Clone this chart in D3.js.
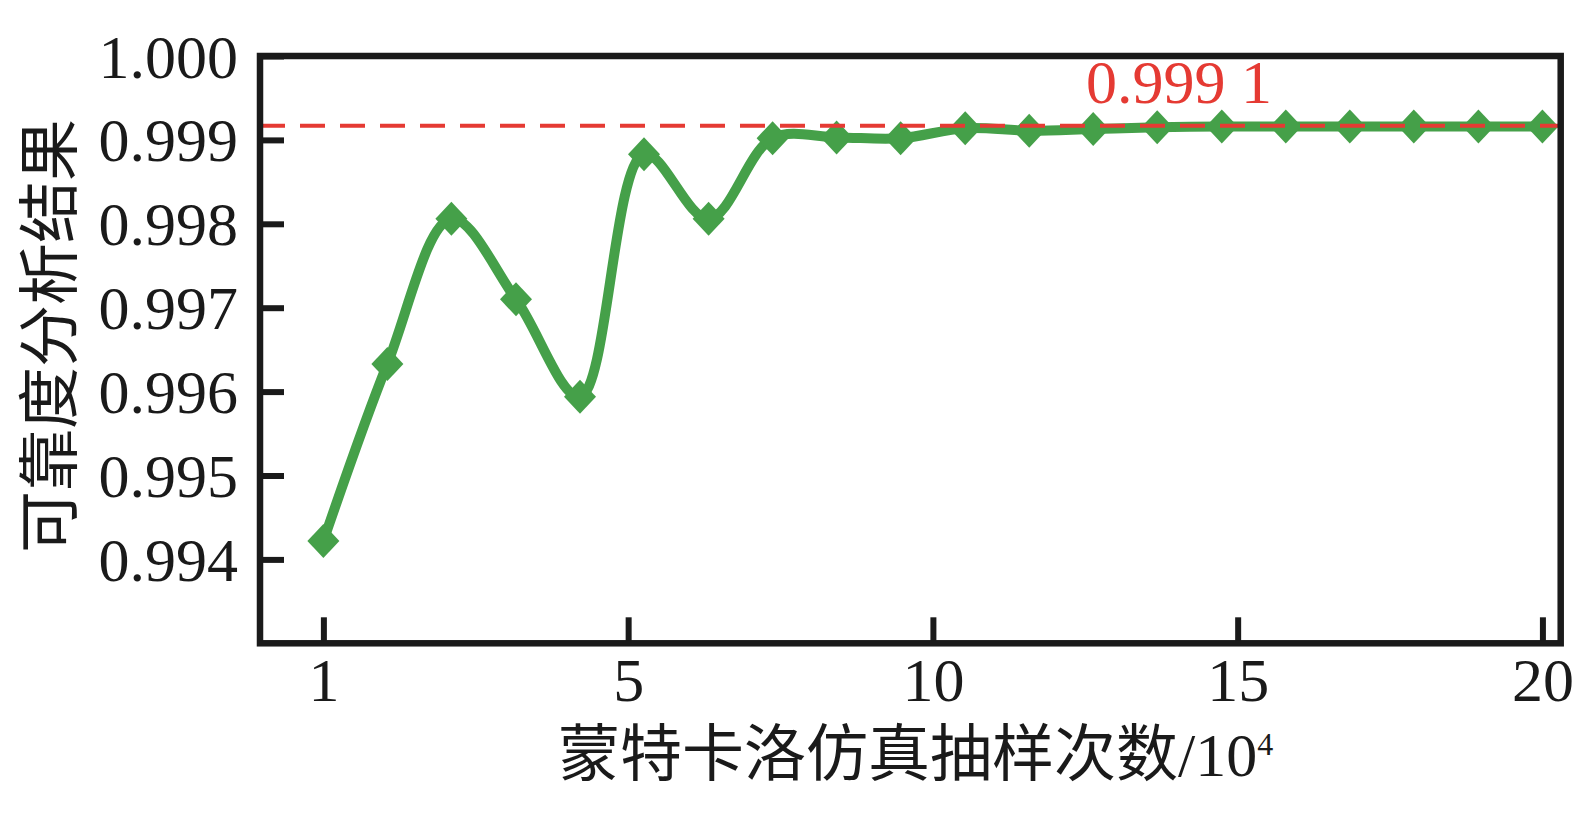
<!DOCTYPE html>
<html>
<head>
<meta charset="utf-8">
<script src="https://cdn.jsdelivr.net/npm/d3@7"></script>
<style>
  body { margin: 0; background: #fff; }
  svg { display: block; }
</style>
</head>
<body>
<div id="chart-area"></div>
<script>
// data
let samples = [1, 2, 3, 4, 5, 6, 7, 8, 9, 10, 11, 12, 13, 14, 15, 16, 17, 18, 19, 20];
// position of each sample on the plotted x axis (ticks 1,5,10,15,20 sit at 0,5,10,15,20)
let xPos = [0, 1.05, 2.1, 3.16, 4.21, 5.26, 6.32, 7.37, 8.42, 9.47,
            10.53, 11.58, 12.63, 13.68, 14.74, 15.79, 16.84, 17.89, 18.95, 20];
let reliability = [0.99422, 0.99633, 0.99806, 0.99710, 0.99594, 0.99883, 0.99806, 0.99902, 0.99903, 0.99902,
                   0.99914, 0.99911, 0.99913, 0.99915, 0.99916, 0.99916, 0.99916, 0.99916, 0.99916, 0.99916];
let refValue = 0.99917;
let refLabel = "0.999 1";
let xTickValues = [0, 5, 10, 15, 20];
let xTickLabels = ["1", "5", "10", "15", "20"];
let yTickValues = [0.994, 0.995, 0.996, 0.997, 0.998, 0.999, 1.000];

let data = samples.map((s, i) => ({ n: s, x: xPos[i], y: reliability[i] }));

// SVG drawing area
let margin = {top: 56, right: 32.3, bottom: 184.7, left: 260};
let width = 1593 - margin.left - margin.right,
    height = 828 - margin.top - margin.bottom;

let svg = d3.select("#chart-area").append("svg")
    .attr("width", 1593)
    .attr("height", 828)
  .append("g")
    .attr("transform", "translate(" + margin.left + "," + margin.top + ")");

let serif = "'Liberation Serif', 'Times New Roman', serif";
let ink = "#1a1a1a";
let green = "#45a049";
let red = "#e53a33";

let x = d3.scaleLinear().domain([-1.04, 20.3]).range([0, width]);
let y = d3.scaleLinear().domain([0.993, 1.000]).range([height, 0]);

// axes with inward ticks
let xAxis = d3.axisBottom(x)
    .tickValues(xTickValues)
    .tickFormat((d, i) => xTickLabels[i])
    .tickSize(-26)
    .tickPadding(14);
let yAxis = d3.axisLeft(y)
    .tickValues(yTickValues)
    .tickFormat(d3.format(".3f"))
    .tickSize(-24)
    .tickPadding(22);

let gx = svg.append("g")
    .attr("class", "axis x-axis")
    .attr("transform", "translate(0," + height + ")")
    .call(xAxis);
let gy = svg.append("g")
    .attr("class", "axis y-axis")
    .call(yAxis);

[gx, gy].forEach(g => {
  g.select(".domain").remove();
  g.attr("font-family", null);
  g.selectAll(".tick line").attr("stroke", ink).attr("stroke-width", 6);
  g.selectAll(".tick text")
    .attr("fill", ink)
    .style("font-family", serif)
    .style("font-size", "62px");
});
gy.selectAll(".tick text").attr("dy", "0.34em");

// smooth curve through the points
let line = d3.line()
    .x(d => x(d.x))
    .y(d => y(d.y))
    .curve(d3.curveCatmullRom.alpha(0.5));

svg.append("path")
    .attr("class", "line")
    .attr("d", line(data))
    .attr("fill", "none")
    .attr("stroke", green)
    .attr("stroke-width", 10)
    .attr("stroke-linejoin", "round");

// diamond markers
svg.append("g")
  .selectAll("path")
  .data(data)
  .enter()
  .append("path")
    .attr("transform", d => "translate(" + x(d.x) + "," + y(d.y) + ")")
    .attr("d", "M0,-17L16,0L0,17L-16,0Z")
    .attr("fill", green);

// reference line
svg.append("line")
    .attr("x1", 0)
    .attr("x2", width)
    .attr("y1", y(refValue))
    .attr("y2", y(refValue))
    .attr("stroke", red)
    .attr("stroke-width", 4)
    .attr("stroke-dasharray", "25,15");

svg.append("text")
    .attr("x", 826)
    .attr("y", 103 - margin.top)
    .attr("fill", red)
    .style("font-family", serif)
    .style("font-size", "62px")
    .text(refLabel);

// frame
svg.append("rect")
    .attr("width", width)
    .attr("height", height)
    .attr("fill", "none")
    .attr("stroke", ink)
    .attr("stroke-width", 6.5);

// axis titles
let xTitle = svg.append("text")
    .attr("x", 558 - margin.left)
    .attr("y", 776 - margin.top)
    .attr("fill", ink)
    .style("font-family", serif)
    .style("font-size", "62px");
xTitle.append("tspan").style("font-family", "'Noto Sans CJK SC'").text("蒙特卡洛仿真抽样次数");
xTitle.append("tspan").text("/10");
xTitle.append("tspan").attr("dy", -21).style("font-size", "32px").text("4");

svg.append("text")
    .attr("transform", "translate(" + (72 - margin.left) + "," + (336 - margin.top) + ") rotate(-90)")
    .attr("text-anchor", "middle")
    .attr("fill", ink)
    .style("font-family", "'Noto Sans CJK SC'")
    .style("font-size", "62px")
    .text("可靠度分析结果");
</script>
</body>
</html>
